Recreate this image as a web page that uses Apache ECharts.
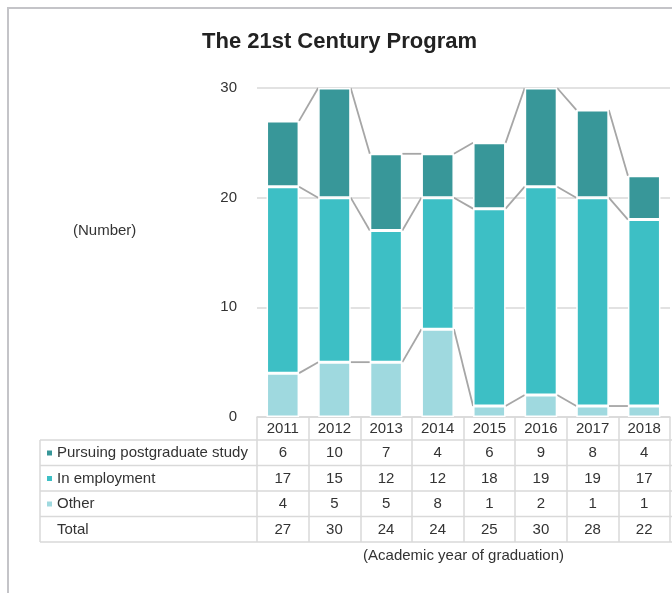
<!DOCTYPE html>
<html>
<head>
<meta charset="utf-8">
<script src="https://cdn.jsdelivr.net/npm/echarts@6/dist/echarts.min.js"></script>
<style>
html, body { margin: 0; padding: 0; background: #fff; }
#chart { width: 672px; height: 593px; }
</style>
</head>
<body>
<div id="chart"></div>
<script>
// data
var years = ['2011', '2012', '2013', '2014', '2015', '2016', '2017', '2018'];
var postgrad = [6, 10, 7, 4, 6, 9, 8, 4];
var employed = [17, 15, 12, 12, 18, 19, 19, 17];
var other = [4, 5, 5, 8, 1, 2, 1, 1];
var totals = [27, 30, 24, 24, 25, 30, 28, 22];
var names = ['Pursuing postgraduate study', 'In employment', 'Other'];
var colors = ['#389799', '#3dbfc5', '#9fd9df'];

var BAR_RATIO = 0.63;
var FONT = '"Liberation Sans", Arial, sans-serif';
var TXT = '#333333';
var LINE = '#d9d9d9';

// tops of each stacked level, used by the series lines between bars
var level1 = other.slice();
var level2 = other.map(function (v, i) { return v + employed[i]; });
var level3 = level2.map(function (v, i) { return v + postgrad[i]; });

function connectorData(level) {
	var out = [];
	for (var i = 0; i < level.length - 1; i++) {
		out.push([i, level[i], level[i + 1]]);
	}
	return out;
}

function renderConnector(params, api) {
	var i = api.value(0);
	var p1 = api.coord([i, api.value(1)]);
	var p2 = api.coord([i + 1, api.value(2)]);
	var half = api.size([1, 0])[0] * BAR_RATIO / 2;
	return {
		type: 'line',
		shape: { x1: p1[0] + half, y1: p1[1], x2: p2[0] - half, y2: p2[1] },
		style: { stroke: '#a6a6a6', lineWidth: 1.8 }
	};
}

function connectorSeries(level) {
	return {
		type: 'custom',
		renderItem: renderConnector,
		data: connectorData(level),
		encode: { x: 0, y: [1, 2] },
		silent: true,
		z: 1
	};
}

// extra category axes act as the rows of the data table
function tableAxis(values, margin) {
	return {
		type: 'category',
		gridIndex: 0,
		position: 'bottom',
		data: values.map(String),
		axisLine: { show: false },
		axisTick: { show: false },
		splitLine: { show: false },
		axisLabel: { interval: 0, margin: margin, verticalAlign: 'middle', color: TXT, fontSize: 15, fontFamily: FONT }
	};
}

var rowLines = [440, 465.5, 491, 516.5, 542];
var graphics = [{
	type: 'rect',
	shape: { x: 8, y: 8, width: 700, height: 600 },
	style: { fill: 'none', stroke: '#c4c4c8', lineWidth: 2 }
}, {
	type: 'text',
	left: 73, top: 223,
	style: { text: '(Number)', fill: TXT, font: '15px ' + FONT }
}, {
	type: 'text',
	left: 57, top: 522,
	style: { text: 'Total', fill: TXT, font: '15px ' + FONT }
}, {
	type: 'line',
	shape: { x1: 40, y1: 440, x2: 40, y2: 542 },
	style: { stroke: LINE, lineWidth: 1.5 }
}];
rowLines.forEach(function (y) {
	graphics.push({
		type: 'line',
		shape: { x1: 40, y1: y, x2: 672, y2: y },
		style: { stroke: LINE, lineWidth: 1.5 }
	});
});

var chart = echarts.init(document.getElementById('chart'));
var option = {
	animation: false,
	textStyle: { fontFamily: FONT },
	title: {
		text: 'The 21st Century Program',
		left: 197, top: 26,
		textStyle: { fontSize: 22, fontWeight: 'bold', color: '#222222', fontFamily: FONT }
	},
	legend: {
		data: names,
		orient: 'vertical',
		left: 47, top: 445.5,
		padding: 0,
		itemWidth: 5, itemHeight: 5,
		itemGap: 10.5,
		icon: 'rect',
		itemStyle: { borderWidth: 0 },
		selectedMode: false,
		textStyle: { color: TXT, fontSize: 15, lineHeight: 15, fontFamily: FONT }
	},
	grid: { left: 257, right: 2, top: 88, bottom: 176, containLabel: false, outerBoundsMode: 'none' },
	xAxis: [{
		type: 'category',
		data: years,
		axisLine: { show: true, lineStyle: { color: LINE, width: 1.5 } },
		axisTick: { show: true, length: 125, lineStyle: { color: LINE, width: 1.5 } },
		axisLabel: { interval: 0, margin: 12, verticalAlign: 'middle', color: TXT, fontSize: 15, fontFamily: FONT },
		name: '(Academic year of graduation)',
		nameLocation: 'middle',
		nameGap: 131,
		nameTextStyle: { color: TXT, fontSize: 15, fontFamily: FONT }
	},
		tableAxis(postgrad, 36),
		tableAxis(employed, 61.5),
		tableAxis(other, 87),
		tableAxis(totals, 112.5)
	],
	yAxis: {
		type: 'value',
		min: 0, max: 30, interval: 10,
		axisLine: { show: false },
		axisTick: { show: false },
		axisLabel: { margin: 20, color: TXT, fontSize: 15, fontFamily: FONT },
		splitLine: { lineStyle: { color: LINE, width: 1.5 } }
	},
	series: [{
		name: names[2], type: 'bar', stack: 'grad', data: other,
		barWidth: (BAR_RATIO * 100) + '%',
		itemStyle: { color: colors[2], borderColor: '#fff', borderWidth: 1.5 }
	}, {
		name: names[1], type: 'bar', stack: 'grad', data: employed,
		itemStyle: { color: colors[1], borderColor: '#fff', borderWidth: 1.5 }
	}, {
		name: names[0], type: 'bar', stack: 'grad', data: postgrad,
		itemStyle: { color: colors[0], borderColor: '#fff', borderWidth: 1.5 }
	},
		connectorSeries(level1),
		connectorSeries(level2),
		connectorSeries(level3)
	],
	graphic: graphics
};
chart.setOption(option);
</script>
</body>
</html>
